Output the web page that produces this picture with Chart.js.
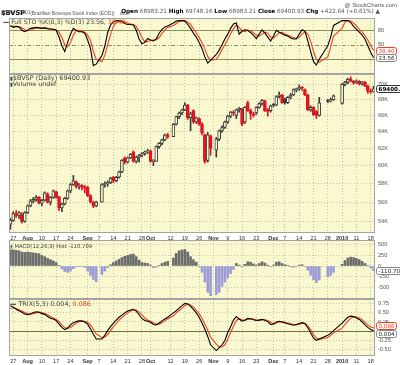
<!DOCTYPE html>
<html><head><meta charset="utf-8">
<script src="https://cdn.jsdelivr.net/npm/chart.js@4"></script>
<style>
html,body{margin:0;padding:0;background:#fff;width:400px;height:365px;overflow:hidden;position:relative}
canvas{position:absolute;left:0}
.t{position:absolute;white-space:nowrap;font-family:"DejaVu Sans",sans-serif;color:#333;line-height:1;z-index:5}
.r{color:#f0401e}
</style></head><body>
<div class="t" style="left:1px;top:2px"><b style="font-size:6.6px;color:#000">$BVSP</b> <span style="font-family:'Liberation Sans';font-size:4.9px;color:#555">(Brazilian Bovespa Stock Index (EOD))</span> <span style="font-family:'Liberation Sans';font-size:4.2px;color:#555">INDX</span></div>
<div class="t" style="right:3px;top:2.5px;font-family:'Liberation Sans';font-size:5.9px;color:#555">@ StockCharts.com</div>
<div class="t" style="left:1px;top:9.5px;font-family:'Liberation Sans';font-size:5.2px;color:#555">18-Jan-2010</div>
<div class="t" id="ohlc" style="right:20px;top:9px;font-size:5.7px;color:#555"></div>
<div class="t" id="lg1" style="left:3px;top:18.5px;font-size:6.2px;color:#444"></div>
<div class="t" id="lg2" style="left:10px;top:75px;font-size:6.5px;color:#444"></div>
<div class="t" style="left:10px;top:81px;font-size:6.3px;color:#444"><span style="font-size:5px">&#9646;</span>Volume undef</div>
<div class="t" id="lg3" style="left:10px;top:243.5px;font-size:5.3px;color:#444"></div>
<div class="t" id="lg4" style="left:10px;top:301px;font-size:6.4px;color:#444"></div>

<canvas id="c1" width="400" height="56" style="top:18px"></canvas>
<canvas id="c2" width="400" height="169" style="top:74px"></canvas>
<canvas id="c3" width="400" height="59" style="top:240px"></canvas>
<canvas id="c4" width="400" height="67" style="top:299px"></canvas>
<script>
// ---------------- DATA ----------------
const categories = ['Jul 24','Jul 27','Jul 28','Jul 29','Jul 30','Jul 31',
'Aug 3','Aug 4','Aug 5','Aug 6','Aug 7','Aug 10','Aug 11','Aug 12','Aug 13','Aug 14','Aug 17','Aug 18','Aug 19','Aug 20','Aug 21','Aug 24','Aug 25','Aug 26','Aug 27','Aug 28','Aug 31',
'Sep 1','Sep 2','Sep 3','Sep 4','Sep 7','Sep 8','Sep 9','Sep 10','Sep 11','Sep 14','Sep 15','Sep 16','Sep 17','Sep 18','Sep 21','Sep 22','Sep 23','Sep 24','Sep 25','Sep 28','Sep 29','Sep 30',
'Oct 1','Oct 2','Oct 5','Oct 6','Oct 7','Oct 8','Oct 9','Oct 12','Oct 13','Oct 14','Oct 15','Oct 16','Oct 19','Oct 20','Oct 21','Oct 22','Oct 23','Oct 26','Oct 27','Oct 28','Oct 29','Oct 30',
'Nov 2','Nov 3','Nov 4','Nov 5','Nov 6','Nov 9','Nov 10','Nov 11','Nov 12','Nov 13','Nov 16','Nov 17','Nov 18','Nov 19','Nov 20','Nov 23','Nov 24','Nov 25','Nov 26','Nov 27','Nov 30',
'Dec 1','Dec 2','Dec 3','Dec 4','Dec 7','Dec 8','Dec 9','Dec 10','Dec 11','Dec 14','Dec 15','Dec 16','Dec 17','Dec 18','Dec 21','Dec 22','Dec 23','Dec 24','Dec 25','Dec 28','Dec 29','Dec 30','Dec 31',
'Jan 1','Jan 4','Jan 5','Jan 6','Jan 7','Jan 8','Jan 11','Jan 12','Jan 13','Jan 14','Jan 15','Jan 18','Jan 19'];

const tickDates  = ['Jul 27','Aug 3','Aug 10','Aug 17','Aug 24','Sep 1','Sep 7','Sep 14','Sep 21','Sep 28','Oct 1','Oct 12','Oct 19','Oct 26','Nov 2','Nov 9','Nov 16','Nov 23','Dec 1','Dec 7','Dec 14','Dec 21','Dec 28','Jan 4','Jan 11','Jan 18'];
const tickLabels = ['27','Aug','10','17','24','Sep','7','14','21','28','Oct','12','19','26','Nov','9','16','23','Dec','7','14','21','28','2010','11','18'];

const open = [53700,54100,54800,54600,54700,54000,54900,55600,56100,56300,
56500,55900,56200,56900,56000,56500,57100,56600,55400,55800,
56400,57200,57900,58200,57700,57800,57600,57600,56700,56000,
55600,null,56000,57900,58000,58100,58700,58300,58700,59300,
60900,60400,60900,61600,60500,61000,61200,61400,61600,61700,
60500,60500,62200,62600,63000,63600,null,63400,64900,65850,
66300,66700,67300,65700,66600,65200,65600,64900,63600,60600,
63500,null,61800,63100,64100,64500,65200,65900,66400,66000,
66700,66800,65200,67600,66600,66200,66300,67000,67500,67800,
66700,66600,67400,67300,68400,68600,68100,67600,68300,68600,
69300,69400,69600,69300,68600,66700,67000,66500,66000,null,
null,67900,67800,68000,null,null,67500,70000,70300,70700,
70450,70200,70400,70100,70300,69800,69100,68983.21];
const high = [54300,55000,55100,55000,54900,55000,55700,56300,56500,56700,
56600,56300,57100,57000,56600,57300,57200,56600,55900,56500,
57300,58000,58900,58300,58000,57900,57800,57700,56800,56100,
56100,null,58000,58200,58300,58700,58800,58800,59400,60700,
61000,61000,61400,61700,61100,61300,61500,61700,61900,61800,
60700,62300,62700,63100,63700,63800,null,65000,65900,66400,
66800,67600,67400,66400,66700,65800,65700,65100,63700,63900,
63600,null,63300,64200,64700,65300,66000,66500,66600,66800,
67000,66900,67100,67800,66800,66400,67100,67600,68000,67900,
66900,67300,67500,68500,69000,68700,68200,68400,68800,69400,
69500,69900,69700,69400,68700,67200,67100,66600,68300,null,
null,68000,68200,68600,null,null,70100,70400,70800,71000,
70500,70600,70500,70400,70400,69900,69400,69748.16];
const low = [53200,54000,54400,54300,53800,53900,54800,55500,55900,56100,
55800,55600,56100,55900,55700,56400,56400,55100,55000,55700,
56300,57000,57800,57500,57400,57300,57000,56600,55900,55400,
55500,null,56000,57600,57700,58000,58100,58200,58600,59200,
60200,60300,60800,60400,60300,60400,61000,61200,61400,60400,
60000,60500,62000,62400,62900,63200,null,63400,64800,65600,
66100,66600,65500,64100,65000,65000,64800,63600,60300,60400,
61200,null,61000,62900,63900,64400,65000,65700,66000,65600,
66400,64700,65000,66500,65500,65800,66100,66900,67300,66500,
65900,66400,67100,67200,68200,67500,67400,67500,68100,68500,
69000,69200,69200,68500,66600,66500,66000,65600,65900,null,
null,67600,67700,67900,null,null,67400,69800,70100,70300,
70000,70100,69900,69900,69700,68800,68800,68983.21];
const close = [54100,54800,54600,54900,54000,54900,55600,56100,56300,56500,
55900,56200,57000,56000,56500,57200,56500,55400,55800,56400,
57200,57900,58300,57700,57800,57600,57500,56700,56000,55600,
56000,null,57900,58000,58100,58600,58300,58700,59300,60600,
60400,60900,61300,60500,61000,61200,61400,61600,61700,60500,
60500,62200,62600,63000,63600,63400,null,64900,65850,66300,
66700,67300,65700,66200,65200,65700,64900,63800,60500,63600,
62000,null,63100,64100,64500,65200,65900,66400,66300,66700,
66900,64900,67000,66600,66200,66000,67000,67500,67900,66600,
66500,67200,67300,68400,68600,67600,67600,68300,68600,69300,
69400,69600,69500,68600,66700,67000,66100,66000,67600,null,
null,67800,68000,68500,null,null,70000,70300,70700,70450,
70200,70400,70100,70300,69800,69100,68983.21,69400.93];

const stoK = [90,86,88,87,80,77,80,84,85,86,
85,84,85,83,82,82,80,66,48,36,
55,72,84,80,77,77,74,60,42,7,
10,null,28,47,75,91,97,100,100,98,
94,92,92,91,80,62,52,55,63,60,
58,62,74,82,87,89,null,95,99,100,
100,99,92,84,74,66,55,42,25,12,
18,null,30,39,50,62,72,84,93,95,
72,78,81,80,75,70,63,72,81,74,
66,58,68,80,76,73,70,68,64,62,
62,72,81,78,58,36,15,8,20,null,
null,48,66,90,null,null,100,100,100,96,
88,82,76,70,62,48,34,23.56];
const stoD = [88,88,88,87,85,81,79,80,83,85,
85,85,85,84,83,82,81,76,65,50,
46,54,70,79,80,78,76,70,59,36,
20,null,15,28,50,71,88,96,99,99,
97,95,93,92,88,78,65,56,57,59,
60,60,65,73,81,86,null,90,94,98,
100,100,97,92,83,75,65,54,41,26,
18,null,20,29,40,50,61,73,83,91,
86,80,77,80,79,75,70,68,72,76,
74,66,64,69,75,76,73,70,67,65,
63,65,72,77,72,57,36,20,14,null,
null,25,45,68,null,null,84,97,100,99,
95,89,82,76,69,60,48,38.40];

const macdHist = [380,380,370,360,330,320,330,320,310,300,
290,250,220,180,150,120,80,10,-70,-130,
-150,-120,-60,-20,-10,-15,-30,-120,-220,-320,
-370,null,-200,-120,-40,30,80,120,160,200,
230,250,270,280,220,140,80,70,60,20,
-40,-30,10,60,90,110,null,190,300,360,
380,390,330,220,150,90,-20,-150,-380,-620,
-700,null,-680,-620,-480,-380,-280,-180,-80,60,
20,-20,40,100,90,50,20,60,100,70,
20,-20,20,90,100,60,30,10,-20,-30,
-10,20,30,-10,-100,-220,-330,-390,-330,null,
null,-260,-220,-150,null,null,40,130,190,210,
200,180,150,110,60,10,-50,-110.709];

const trix = [0.70,0.66,0.60,0.56,0.52,0.47,0.45,0.47,0.51,0.53,
0.52,0.48,0.46,0.40,0.35,0.33,0.29,0.19,0.10,0.04,
0.08,0.17,0.23,0.26,0.28,0.28,0.25,0.19,0.06,-0.09,
-0.22,null,-0.22,-0.12,0.01,0.12,0.22,0.30,0.38,0.44,
0.50,0.55,0.58,0.60,0.55,0.45,0.34,0.29,0.27,0.24,
0.18,0.17,0.22,0.28,0.33,0.38,null,0.50,0.56,0.63,
0.70,0.76,0.75,0.68,0.60,0.50,0.38,0.22,0.05,-0.15,
-0.38,null,-0.54,-0.46,-0.38,-0.26,-0.04,0.12,0.30,0.40,
0.33,0.27,0.30,0.35,0.34,0.31,0.29,0.30,0.32,0.30,
0.26,0.18,0.19,0.25,0.27,0.25,0.22,0.20,0.18,0.16,
0.18,0.21,0.23,0.20,0.09,-0.05,-0.20,-0.26,-0.22,null,
null,-0.12,-0.06,0.01,null,null,0.22,0.30,0.38,0.41,
0.40,0.36,0.32,0.25,0.17,0.10,0.04,0.004];
const trixSignal = [0.62,0.64,0.62,0.59,0.55,0.51,0.48,0.47,0.48,0.50,
0.52,0.51,0.48,0.45,0.40,0.36,0.32,0.26,0.17,0.10,
0.07,0.10,0.16,0.22,0.26,0.27,0.27,0.24,0.17,0.05,
-0.08,null,-0.18,-0.17,-0.10,0.01,0.12,0.21,0.30,0.37,
0.44,0.50,0.55,0.58,0.58,0.53,0.44,0.36,0.30,0.27,
0.23,0.19,0.19,0.23,0.28,0.33,null,0.42,0.50,0.56,
0.63,0.70,0.74,0.72,0.66,0.58,0.48,0.35,0.19,0.02,
-0.17,null,-0.36,-0.44,-0.44,-0.38,-0.23,-0.04,0.14,0.29,
0.34,0.31,0.30,0.32,0.34,0.33,0.31,0.30,0.31,0.31,
0.29,0.24,0.21,0.22,0.25,0.26,0.24,0.22,0.20,0.18,
0.17,0.19,0.21,0.21,0.15,0.04,-0.10,-0.20,-0.23,null,
null,-0.18,-0.12,-0.05,null,null,0.08,0.18,0.27,0.35,
0.39,0.39,0.36,0.31,0.24,0.17,0.11,0.086];

const priceTicks = [54000,56000,58000,60000,62000,64000,66000,68000,70000];
const stoTicks = [20,50,80];
const macdTicks = [-500,-250,0,250,500];
const trixTicks = [-0.5,-0.25,0.25,0.5,0.75];

// ---------------- STYLE ----------------
const PANEL_BG = '#f9f8cf';
const GRID = '#c4c3ae';
const OLIVE = '#8e8e58';
const RED = '#f0401e';
const CANDLE_RED = '#e2141e';
const CANDLE_UP = '#3a3a3a';
const N = categories.length;
const tickIndex = tickDates.map(d => categories.indexOf(d));
const isMonth = tickLabels.map(l => !/^\d{1,2}$/.test(l));
const last = a => a[a.length - 1];
const fmt2 = v => v.toFixed(2);

document.getElementById('ohlc').innerHTML =
  '<b style="color:#000">Open</b> ' + fmt2(last(open)) + ' <b style="color:#000">High</b> ' + fmt2(last(high)) +
  ' <b style="color:#000">Low</b> ' + fmt2(last(low)) + ' <b style="color:#000">Close</b> ' + fmt2(last(close)) +
  ' <b style="color:#000">Chg</b> +422.64 (+0.61%) &#9650;';
document.getElementById('lg1').innerHTML = '<b style="color:#000">&#8212;</b> Full STO %K(8,3) %D(3) ' + fmt2(last(stoK)) + ', <span class="r">' + fmt2(last(stoD)) + '</span>';
document.getElementById('lg2').innerHTML = '<span style="font-size:5px">&#9646;</span>$BVSP (Daily) ' + fmt2(last(close));
document.getElementById('lg3').innerHTML = '<span style="font-size:5px;color:#777">&#9646;</span> MACD(12,26,9) Hist ' + last(macdHist).toFixed(3);
document.getElementById('lg4').innerHTML = '<b style="color:#000">&#8212;</b> TRIX(5,3) ' + last(trix).toFixed(3) + ', <span class="r">' + last(trixSignal).toFixed(3) + '</span>';

// ---------------- PLUGIN ----------------
const decor = {
  id: 'decor',
  beforeDraw(chart, args, o) {
    const {ctx, chartArea: a} = chart;
    ctx.save(); ctx.fillStyle = PANEL_BG;
    ctx.fillRect(a.left, a.top, a.right - a.left, a.bottom - a.top); ctx.restore();
  },
  beforeDatasetsDraw(chart, args, o) {
    const {ctx, chartArea: a} = chart; const y = chart.scales.y;
    (o.lines || []).forEach(l => {
      const py = Math.round(y.getPixelForValue(l.value)) + 0.5;
      ctx.save(); ctx.strokeStyle = l.color; ctx.lineWidth = 1; ctx.setLineDash(l.dash || []);
      ctx.beginPath(); ctx.moveTo(a.left, py); ctx.lineTo(a.right, py); ctx.stroke(); ctx.restore();
    });
  },
  afterDraw(chart, args, o) {
    const {ctx, chartArea: a} = chart; const y = chart.scales.y;
    ctx.save();
    ctx.strokeStyle = '#a4a4a4'; ctx.lineWidth = 1;
    ctx.strokeRect(a.left + 0.5, a.top + 0.5, a.right - a.left - 1, a.bottom - a.top - 1);
    const boxes = (o.boxes || []).map(b => Object.assign({}, b, {py: y.getPixelForValue(b.value)})).sort((p, q) => p.py - q.py);
    for (let i = 1; i < boxes.length; i++) {
      const d = boxes[i].py - boxes[i - 1].py;
      if (d < 7.5) { const s = (7.5 - d) / 2; boxes[i - 1].py -= s; boxes[i].py += s; }
    }
    boxes.forEach(b => {
      ctx.font = (b.bold ? 'bold ' : '') + '5.6px "DejaVu Sans"';
      const w = ctx.measureText(b.text).width + 4, h = 7, x = a.right + 1.5, top = Math.round(b.py - h / 2) + 0.5;
      ctx.beginPath();
      if (ctx.roundRect) ctx.roundRect(x, top, w, h, 2); else ctx.rect(x, top, w, h);
      ctx.fillStyle = '#fff'; ctx.fill(); ctx.strokeStyle = b.border; ctx.lineWidth = 1; ctx.stroke();
      ctx.fillStyle = b.color; ctx.textBaseline = 'middle'; ctx.textAlign = 'left';
      ctx.fillText(b.text, x + 2, top + h / 2 + 0.3);
    });
    ctx.restore();
  }
};
Chart.register(decor);

// ---------------- SCALES ----------------
function xScale(showLabels) {
  return {
    type: 'category', offset: true,
    grid: {offset: false, color: GRID, lineWidth: 1, drawTicks: false},
    border: {display: false, dash: [1, 2]},
    ticks: {
      display: showLabels, autoSkip: false, maxRotation: 0, minRotation: 0, padding: 2, color: '#333',
      font: c => ({family: 'Liberation Sans', size: 5.6, weight: isMonth[c.index] ? 'bold' : 'normal'}),
      callback: (v, i) => tickLabels[i]
    },
    afterBuildTicks: s => { s.ticks = tickIndex.map(v => ({value: v})); },
    afterFit: s => { s.height = showLabels ? 10 : 0; s.paddingLeft = 0; s.paddingRight = 0; }
  };
}
function yScale(extra, ticks, fmt, showGrid) {
  return Object.assign({
    position: 'right',
    grid: {display: showGrid, color: GRID, drawTicks: false},
    border: {display: false, dash: [1, 2]},
    ticks: {color: '#555', font: {family: 'Liberation Sans', size: 5.6}, padding: 3, autoSkip: false, callback: fmt},
    afterBuildTicks: s => { s.ticks = ticks.map(v => ({value: v})); },
    afterFit: s => { s.width = 25; s.paddingTop = 0; s.paddingBottom = 0; }
  }, extra);
}
const base = (pluginOpts) => ({
  responsive: false, animation: false, devicePixelRatio: 1,
  layout: {padding: {left: 9, right: 0, top: 0, bottom: 0}, autoPadding: false},
  plugins: {legend: {display: false}, tooltip: {enabled: false}, decor: pluginOpts}
});

// ---------------- STO ----------------
new Chart(document.getElementById('c1'), {
  type: 'line',
  data: {labels: categories, datasets: [
    {data: stoK, borderColor: '#000', borderWidth: 1.1, pointRadius: 0, spanGaps: true, tension: 0},
    {data: stoD, borderColor: RED, borderWidth: 1.1, pointRadius: 0, spanGaps: true, tension: 0}
  ]},
  options: Object.assign(base({
    lines: [{value: 80, color: OLIVE}, {value: 20, color: OLIVE}, {value: 50, color: OLIVE, dash: [4, 2, 1, 2]}],
    boxes: [{value: last(stoD), text: fmt2(last(stoD)), color: RED, border: RED},
            {value: last(stoK), text: fmt2(last(stoK)), color: '#222', border: '#888'}]
  }), {scales: {x: xScale(false), y: yScale({min: -10.4, max: 105.4}, stoTicks, v => String(v), false)}})
});

// ---------------- PRICE ----------------
let prev = null;
const strokeCol = [], fillCol = [];
for (let i = 0; i < N; i++) {
  if (close[i] == null) { strokeCol.push('#000'); fillCol.push('#000'); continue; }
  const s = (prev == null || close[i] >= prev) ? CANDLE_UP : CANDLE_RED;
  strokeCol.push(s);
  fillCol.push(close[i] >= open[i] ? PANEL_BG : s);
  prev = close[i];
}
new Chart(document.getElementById('c2'), {
  type: 'bar',
  data: {labels: categories, datasets: [
    {data: categories.map((_, i) => open[i] == null ? null : [open[i], close[i]]),
     backgroundColor: fillCol, borderColor: strokeCol, borderWidth: 1, borderSkipped: false,
     barThickness: 3, minBarLength: 1, grouped: false},
    {data: categories.map((_, i) => low[i] == null ? null : [low[i], high[i]]),
     backgroundColor: strokeCol, borderWidth: 0, barThickness: 1, grouped: false}
  ]},
  options: Object.assign(base({
    boxes: [{value: last(close), text: fmt2(last(close)), color: '#000', border: '#333', bold: true}]
  }), {scales: {x: xScale(true), y: yScale({type: 'logarithmic', min: 52820, max: 71380}, priceTicks, v => (v / 1000) + 'K', true)}})
});

// ---------------- MACD ----------------
new Chart(document.getElementById('c3'), {
  type: 'bar',
  data: {labels: categories, datasets: [
    {data: macdHist, backgroundColor: macdHist.map(v => v >= 0 ? '#6c6c6c' : '#9c9cd6'), barThickness: 2, borderWidth: 0}
  ]},
  options: Object.assign(base({
    boxes: [{value: last(macdHist), text: last(macdHist).toFixed(3), color: '#222', border: '#888'}]
  }), {scales: {x: xScale(false), y: yScale({min: -779, max: 614}, macdTicks, v => String(v), true)}})
});

// ---------------- TRIX ----------------
new Chart(document.getElementById('c4'), {
  type: 'line',
  data: {labels: categories, datasets: [
    {data: trix, borderColor: '#000', borderWidth: 1.1, pointRadius: 0, spanGaps: true, tension: 0},
    {data: trixSignal, borderColor: RED, borderWidth: 1.1, pointRadius: 0, spanGaps: true, tension: 0}
  ]},
  options: Object.assign(base({
    lines: [{value: 0, color: '#6e6e40'}],
    boxes: [{value: last(trixSignal), text: last(trixSignal).toFixed(3), color: RED, border: RED},
            {value: last(trix), text: last(trix).toFixed(3), color: '#222', border: '#888'}]
  }), {scales: {x: xScale(true), y: yScale({min: -0.69, max: 0.884}, trixTicks, v => v.toFixed(2), true)}})
});
</script>
</body></html>
